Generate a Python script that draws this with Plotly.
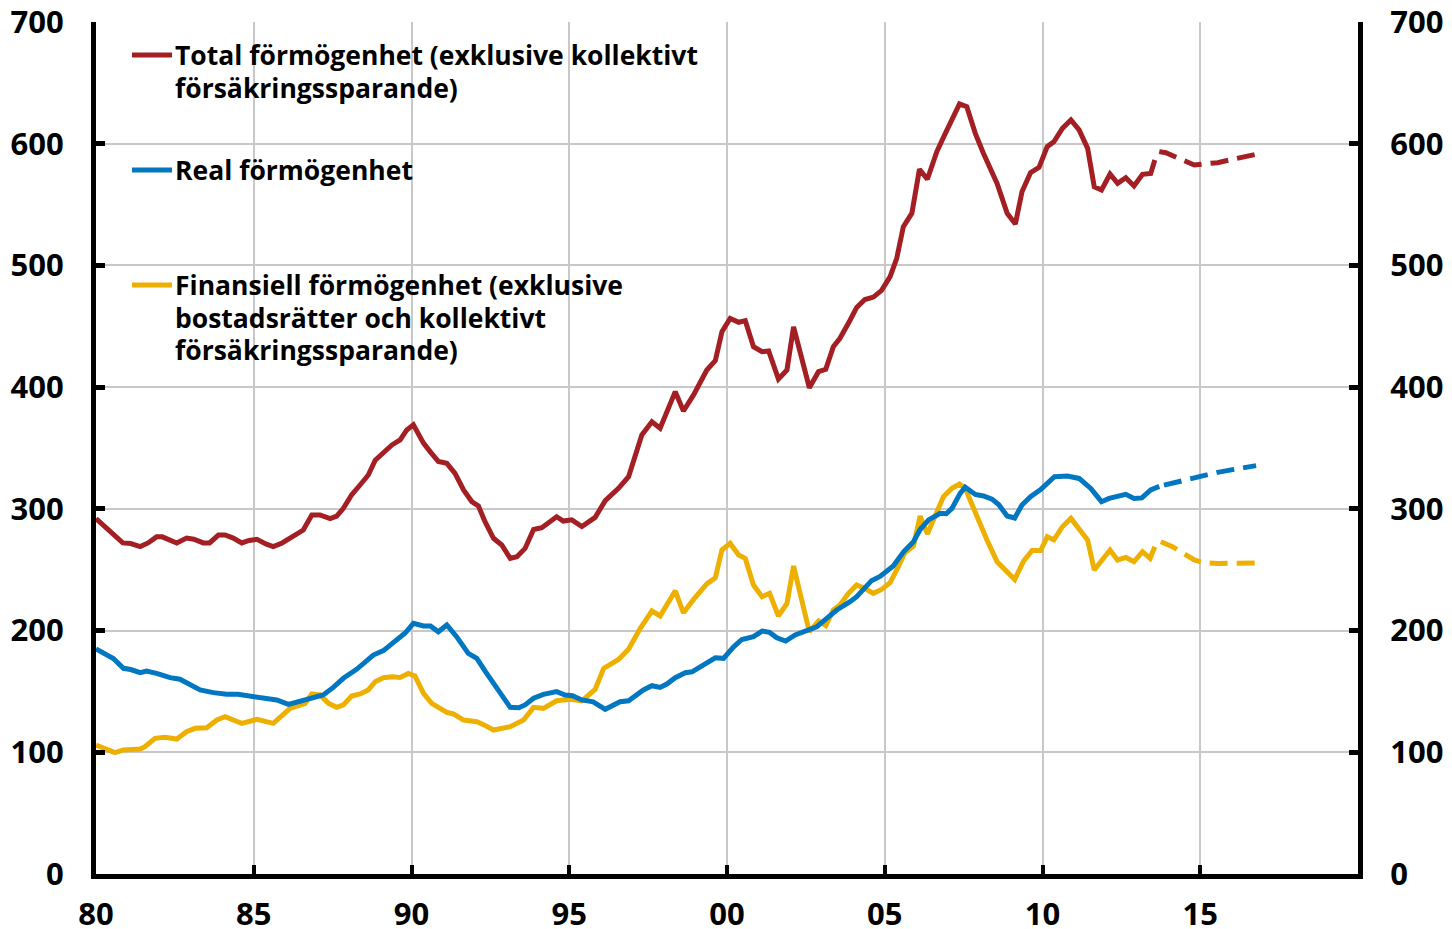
import plotly.graph_objects as go

# ---------------- data (decimal years, index values) ----------------
total_x = [1980.0, 1980.3, 1980.55, 1980.85, 1981.1, 1981.4, 1981.65, 1981.92, 1982.1, 1982.35,
           1982.56, 1982.87, 1983.1, 1983.4, 1983.6, 1983.88, 1984.09, 1984.35, 1984.62, 1984.85,
           1985.1, 1985.4, 1985.62, 1985.9, 1986.15, 1986.4, 1986.57, 1986.84, 1987.1, 1987.42,
           1987.63, 1987.84, 1988.1, 1988.37, 1988.63, 1988.85, 1989.11, 1989.38, 1989.64, 1989.85,
           1990.06, 1990.38, 1990.59, 1990.85, 1991.12, 1991.38, 1991.65, 1991.91, 1992.12, 1992.33,
           1992.6, 1992.86, 1993.13, 1993.34, 1993.6, 1993.87, 1994.13, 1994.35, 1994.6, 1994.81,
           1995.08, 1995.4, 1995.66, 1995.82, 1996.14, 1996.56, 1996.88, 1997.3, 1997.62, 1997.88,
           1998.36, 1998.62, 1998.94, 1999.36, 1999.63, 1999.84, 2000.1, 2000.37, 2000.58, 2000.84,
           2001.11, 2001.32, 2001.63, 2001.9, 2002.11, 2002.37, 2002.61, 2002.9, 2003.13, 2003.37,
           2003.58, 2003.9, 2004.11, 2004.37, 2004.64, 2004.9, 2005.17, 2005.38, 2005.59, 2005.86,
           2006.1, 2006.35, 2006.65, 2006.92, 2007.13, 2007.37, 2007.6, 2007.87, 2008.13, 2008.56,
           2008.88, 2009.14, 2009.35, 2009.62, 2009.89, 2010.15, 2010.36, 2010.63, 2010.9, 2011.16,
           2011.43, 2011.64, 2011.87, 2012.14, 2012.38, 2012.64, 2012.9, 2013.17, 2013.43, 2013.56]
total_y = [292, 285, 278, 272, 271.5, 269, 272, 277, 277, 274,
           272, 276, 275, 272, 272, 278.5, 278.5, 276, 272, 274,
           275, 271, 269, 272, 276, 279, 282.6, 295, 295, 292,
           294, 300.4, 311.4, 319.6, 327.8, 340, 345.6, 352.5, 356.6, 364.8,
           369, 354, 347, 339, 337.4, 329.2, 315.5, 306, 302.4, 289.5,
           275.8, 270.3, 259.3, 260.7, 267.5, 283.1, 284.5, 289, 293.5, 290,
           291, 285.5, 289.5, 293, 306.7, 316.9, 326.4, 360.7, 371.6, 366.2,
           396.3, 380.4, 393.6, 414.1, 421.8, 445.6, 456.5, 453.3, 454.6, 433.2,
           429.1, 429.7, 406.7, 414.1, 449.6, 425, 399.5, 412.7, 414.6, 433.2,
           440.1, 455, 465.5, 472, 474, 479.5, 490.8, 505.9, 531.9, 542.9,
           579, 570.8, 593.5, 608.5, 619.5, 632.7, 630.4, 608.5, 592, 567.4,
           542.8, 534, 560.6, 576.2, 580.6, 597.6, 601.6, 612.6, 619.5, 611.3,
           596.2, 564.7, 562, 575.1, 567.4, 572.1, 565.3, 574.9, 575.6, 586.6]
total_fc_x = [2013.7, 2013.91, 2014.32, 2014.81, 2015.13, 2015.55, 2016.08, 2016.5, 2016.9]
total_fc_y = [593.5, 592.6, 588, 582.5, 583.4, 584.4, 587.5, 590, 592]

real_x = [1980.0, 1980.3, 1980.55, 1980.87, 1981.1, 1981.4, 1981.6, 1981.92, 1982.35, 1982.66,
          1982.98, 1983.3, 1983.72, 1984.14, 1984.5, 1984.88, 1985.1, 1985.4, 1985.73, 1986.1,
          1986.57, 1987.2, 1987.52, 1987.84, 1988.26, 1988.79, 1989.11, 1989.53, 1989.8, 1990.06,
          1990.38, 1990.6, 1990.85, 1991.12, 1991.43, 1991.8, 1992.07, 1992.35, 1992.6, 1992.86,
          1993.13, 1993.4, 1993.6, 1993.87, 1994.18, 1994.6, 1994.87, 1995.1, 1995.4, 1995.76,
          1996.14, 1996.61, 1996.88, 1997.35, 1997.62, 1997.88, 1998.09, 1998.36, 1998.68, 1998.89,
          1999.36, 1999.63, 1999.89, 2000.21, 2000.47, 2000.84, 2001.11, 2001.35, 2001.58, 2001.86,
          2002.16, 2002.53, 2002.84, 2003.16, 2003.48, 2003.9, 2004.11, 2004.58, 2004.85, 2005.27,
          2005.59, 2005.91, 2006.12, 2006.39, 2006.76, 2006.95, 2007.13, 2007.39, 2007.55, 2007.87,
          2008.13, 2008.4, 2008.61, 2008.88, 2009.12, 2009.35, 2009.62, 2009.94, 2010.38, 2010.79,
          2011.16, 2011.53, 2011.87, 2012.11, 2012.64, 2012.9, 2013.15, 2013.43, 2013.7]
real_y = [185, 181, 177, 169, 168, 165.4, 166.8, 164.9, 161.3, 160,
          155.3, 151.2, 149, 147.6, 147.6, 146.2, 145.7, 144.4, 143, 139.4,
          142.4, 147.1, 153.3, 160.8, 168.2, 179.9, 183.5, 192.3, 198, 206,
          203.8, 203.8, 199, 204.6, 195, 181.3, 177.2, 166, 156.7, 148.4,
          136.9, 136.6, 138.9, 144.4, 147.6, 149.8, 147.1, 146.5, 143, 141.5,
          135.3, 141.5, 142.3, 151.2, 154.7, 153.3, 156.1, 161.3, 165.4, 166.1,
          173.8, 177.6, 177.2, 186.7, 192.7, 195, 199.6, 198.5, 194.1, 191.4,
          196.4, 199.6, 203.1, 210, 216.9, 223.7, 227.8, 241, 244.5, 253,
          264.5, 273, 283, 290.9, 296.3, 296, 300.4, 312.7, 317.8, 311.8,
          310.6, 308, 303.5, 294.1, 292.5, 303.2, 310, 315.8, 326.4, 327,
          325, 316.8, 305.9, 308.6, 311.9, 308.6, 309, 315.5, 318.5]
real_fc_x = [2013.85, 2014.07, 2014.6, 2015.13, 2015.55, 2015.98, 2016.4, 2016.77]
real_fc_y = [319.5, 321, 324.5, 327.8, 330, 332, 334, 335.5]

fin_x = [1980.0, 1980.6, 1980.87, 1981.4, 1981.55, 1981.87, 1982.19, 1982.56, 1982.87, 1983.14,
         1983.51, 1983.83, 1984.09, 1984.62, 1985.1, 1985.62, 1986.15, 1986.63, 1986.84, 1987.1,
         1987.37, 1987.63, 1987.84, 1988.1, 1988.37, 1988.63, 1988.85, 1989.11, 1989.38, 1989.64,
         1989.9, 1990.11, 1990.38, 1990.64, 1991.12, 1991.33, 1991.65, 1992.07, 1992.3, 1992.6,
         1993.13, 1993.55, 1993.87, 1994.18, 1994.6, 1995.03, 1995.4, 1995.82, 1996.09, 1996.56,
         1996.88, 1997.25, 1997.62, 1997.88, 1998.36, 1998.62, 1998.94, 1999.36, 1999.63, 1999.84,
         2000.1, 2000.37, 2000.58, 2000.84, 2001.11, 2001.35, 2001.63, 2001.9, 2002.11, 2002.37,
         2002.61, 2002.9, 2003.13, 2003.37, 2003.58, 2003.85, 2004.11, 2004.37, 2004.64, 2004.9,
         2005.17, 2005.38, 2005.64, 2005.91, 2006.12, 2006.35, 2006.6, 2006.86, 2007.13, 2007.37,
         2007.55, 2007.92, 2008.24, 2008.56, 2009.12, 2009.4, 2009.67, 2009.94, 2010.15, 2010.36,
         2010.63, 2010.9, 2011.16, 2011.43, 2011.64, 2011.91, 2012.14, 2012.38, 2012.64, 2012.9,
         2013.17, 2013.41, 2013.56]
fin_y = [106, 99.7, 101.9, 102.7, 104.6, 111.5, 112.3, 110.9, 116.9, 119.7,
         120.2, 126.5, 129.2, 123.8, 127.1, 123.8, 136.1, 140.2, 147.9, 147.1,
         140.2, 136.9, 138.9, 146.2, 147.9, 151.2, 158, 161.3, 162.1, 161.5,
         164.8, 162.7, 148.4, 140.2, 132.8, 131.5, 126.5, 125.1, 122.5, 118.3,
         121, 126.5, 136.9, 136.1, 142.3, 143.5, 142.3, 151.6, 168.9, 176.3,
         184.6, 201.9, 216.1, 212, 232.7, 214.6, 225.6, 238.3, 243.4, 266.2,
         271.6, 262.1, 259.3, 237.4, 227.8, 230.6, 212, 222.3, 253, 226.5,
         199, 207.9, 204, 216.9, 221, 230.6, 237.4, 234.6, 230.6, 233.8,
         239.3, 249.8, 264, 269.5, 294, 279.4, 295, 310, 316.9, 320.4,
         316.9, 293.5, 274.4, 256.6, 242, 257, 265.8, 265.8, 277, 274.5,
         285.3, 292.2, 284, 274.4, 249.8, 258, 266.2, 258, 260.1, 256.6,
         264.8, 259.3, 268.9]
fin_fc_x = [2013.75, 2014.12, 2014.81, 2015.13, 2015.55, 2016.3, 2016.95]
fin_fc_y = [273, 268.9, 258, 255.7, 255.2, 255.3, 255.7]

x_tickvals = [1980, 1985, 1990, 1995, 2000, 2005, 2010, 2015]
x_ticktext = ["80", "85", "90", "95", "00", "05", "10", "15"]
y_tickvals = [0, 100, 200, 300, 400, 500, 600, 700]

legend_lines = [
    ["Total förmögenhet (exklusive kollektivt", "försäkringssparande)"],
    ["Real förmögenhet"],
    ["Finansiell förmögenhet (exklusive", "bostadsrätter och kollektivt", "försäkringssparande)"],
]

# ---------------- style ----------------
RED = "#A31F24"
BLUE = "#0077C0"
YELLOW = "#EEB000"
LW = 5
FONT = "Open Sans"
OFF = 8                     # page body margin in the browser
W, H = 1452 - OFF, 929 - OFF
L, R, T, B = 96 - OFF, 94, 22 - OFF, 55

fig = go.Figure()
series = [
    (total_x, total_y, total_fc_x, total_fc_y, RED),
    (real_x, real_y, real_fc_x, real_fc_y, BLUE),
    (fin_x, fin_y, fin_fc_x, fin_fc_y, YELLOW),
]
for xs, ys, fxs, fys, col in reversed(series):
    fig.add_trace(go.Scatter(x=xs, y=ys, mode="lines",
                             line=dict(color=col, width=LW), showlegend=False,
                             hoverinfo="skip"))
    fig.add_trace(go.Scatter(x=fxs, y=fys, mode="lines",
                             line=dict(color=col, width=LW, dash="18px,9px"),
                             showlegend=False, hoverinfo="skip"))

# invisible copy on the right-hand axis so that it is drawn
fig.add_trace(go.Scatter(x=total_x, y=total_y, yaxis="y2", mode="lines",
                         line=dict(width=0), opacity=0, showlegend=False,
                         hoverinfo="skip"))

def px_x(p):  # screen pixel -> paper
    return (p - OFF - L) / (W - L - R)

def px_y(p):
    return (H - B - (p - OFF)) / (H - T - B)

legend_colors = [RED, BLUE, YELLOW]
legend_line_y = [55, 170, 285]
line_step = 32.5
for items, col, y0 in zip(legend_lines, legend_colors, legend_line_y):
    fig.add_shape(type="line", xref="paper", yref="paper",
                  x0=px_x(132), x1=px_x(172), y0=px_y(y0), y1=px_y(y0),
                  line=dict(color=col, width=5))
    for i, txt in enumerate(items):
        fig.add_annotation(text=txt, xref="paper", yref="paper",
                           x=px_x(173), y=px_y(y0 + i * line_step),
                           xanchor="left", yanchor="middle", showarrow=False,
                           font=dict(family=FONT, size=26.5, color="black", weight="bold"))

axis_font = dict(family=FONT, size=31, color="black", weight="bold")
fig.update_layout(
    width=W, height=H,
    margin=dict(l=L, r=R, t=T, b=B, pad=0, autoexpand=False),
    plot_bgcolor="white", paper_bgcolor="white",
    showlegend=False,
    xaxis=dict(range=[1980, 2020], tickvals=x_tickvals, ticktext=x_ticktext,
               showgrid=True, gridcolor="#C8C8C8", gridwidth=1.5,
               showline=True, linecolor="black", linewidth=5,
               ticks="inside", ticklen=9, tickwidth=4, tickcolor="black",
               tickfont=axis_font, ticklabelstandoff=9, zeroline=False,
               automargin=False, ticklabeloverflow="allow"),
    yaxis=dict(range=[0, 700], tickvals=y_tickvals,
               showgrid=True, gridcolor="#C8C8C8", gridwidth=1.5,
               showline=True, linecolor="black", linewidth=5,
               ticks="inside", ticklen=9, tickwidth=5, tickcolor="black",
               tickfont=axis_font, ticklabelstandoff=21, zeroline=False,
               automargin=False, ticklabeloverflow="allow"),
    yaxis2=dict(range=[0, 700], tickvals=y_tickvals, overlaying="y", side="right",
                anchor="x", showgrid=False,
                showline=True, linecolor="black", linewidth=5,
                ticks="inside", ticklen=9, tickwidth=5, tickcolor="black",
                tickfont=axis_font, ticklabelstandoff=21, zeroline=False,
                automargin=False, ticklabeloverflow="allow"),
)

fig.write_html("out.html")
